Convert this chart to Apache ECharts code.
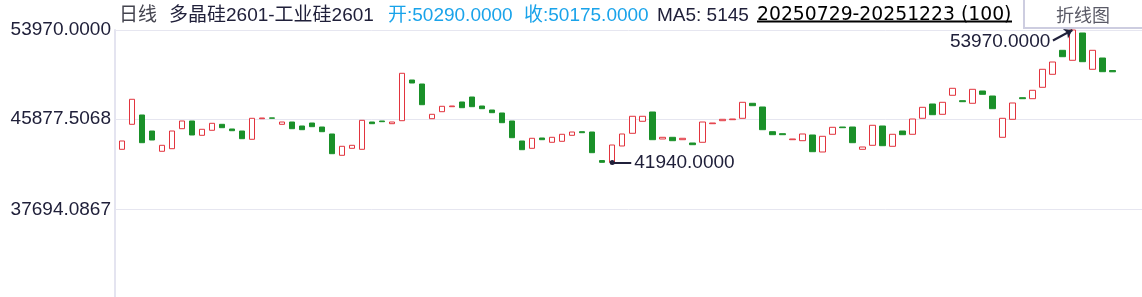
<!DOCTYPE html>
<html><head><meta charset="utf-8">
<script src="https://cdn.jsdelivr.net/npm/echarts@6/dist/echarts.min.js"></script>
<style>html,body{margin:0;padding:0;background:#fff;}#c{width:1142px;height:297px;}</style>
</head><body><div id="c"></div>
<script>
// ---- data ----
const opens = [
  43141,45410,46255,44802,42960,43196,45011,45710,44412,44866,
  45410,44984,44802,44049,45919,45990,45410,45619,45256,45528,
  45165,44530,42596,43232,43141,45619,45710,45465,45737,49431,
  49068,45919,46554,47008,47435,47888,47071,46708,46436,45710,
  43895,43232,44167,43777,43867,44412,44739,44711,42120,41940,
  43441,44593,45683,46527,44076,44230,44013,43713,43777,45465,
  45737,45828,45955,47317,46981,44739,44557,44013,43922,44439,
  42896,44503,45165,45165,43141,43504,45256,43413,44802,44503,
  45955,47253,46318,48043,47553,47317,48433,47979,44230,45864,
  47825,47734,48769,49949,52127,51220,53698,50403,51428,50290
];
const closes = [
  43895,47680,43740,43985,43504,44802,45710,44439,44957,45501,
  45102,44829,44103,45955,45982,45960,45619,45011,44920,45193,
  44739,42742,43413,43504,45773,45465,45646,45619,50040,49159,
  47189,46318,47044,47071,46917,47008,46826,46463,45556,44194,
  43105,44140,44013,44230,44503,44711,44648,42833,41960,43531,
  44530,46137,46137,44013,44230,43922,44140,43559,45619,45528,
  45864,45891,47407,47099,44920,44466,44466,44076,44530,42923,
  44321,45138,45102,43740,43350,45320,43468,44503,44466,45891,
  46953,46282,47407,48678,47462,48587,48133,46826,45955,47344,
  47734,48497,50403,51065,51546,53970,51093,52127,50185,50175
];
const yTickValues = [53970, 45877.5068, 37694.0867];
const headerProduct = '多晶硅2601-工业硅2601';
const headerPeriod = '日线';
const headerOpen = '开:50290.0000';
const headerClose = '收:50175.0000';
const headerMA = 'MA5: 5145';
const headerRange = '20250729-20251223 (100)';
const buttonText = '折线图';

// ---- build ----
const RED = '#e2343e', GREEN = '#1a9029', NAVY = '#20203a';
const candles = opens.map((o, i) => {
  const c = closes[i];
  return [i, o, c, Math.min(o, c), Math.max(o, c)];
});
let minIdx = 0, maxIdx = 0;
candles.forEach((d, i) => {
  if (d[3] < candles[minIdx][3]) minIdx = i;
  if (d[4] > candles[maxIdx][4]) maxIdx = i;
});
const minVal = candles[minIdx][3], maxVal = candles[maxIdx][4];
const UNIT_PER_PX = 90.77;

const FONT = '"Liberation Sans", Arial, "Noto Sans CJK SC", sans-serif';
function t(text, left, color, family, size) {
  return { text, left, top: 6, padding: 0,
    textStyle: { fontSize: size || 19, fontWeight: 'normal', color, fontFamily: family || FONT } };
}

const chart = echarts.init(document.getElementById('c'));
chart.setOption({
  animation: false,
  backgroundColor: '#fff',
  title: [
    t(headerPeriod, 119, '#44444f'),
    t(headerProduct, 169, NAVY),
    t(headerOpen, 388, '#19a3ea'),
    t(headerClose, 524, '#19a3ea'),
    t(headerMA, 657, NAVY),
    t(headerRange, 757, '#000', '"DejaVu Sans", sans-serif', 18.8)
  ],
  grid: { left: 115, right: 0, top: 30, bottom: 0, containLabel: false },
  xAxis: { type: 'value', min: -0.7, max: 101.95, show: false },
  yAxis: {
    type: 'value', min: 29734, max: 53970,
    axisLine: { show: true, onZero: false, lineStyle: { color: '#e4e4f0', width: 2 } },
    axisTick: { show: false },
    splitLine: { show: false },
    axisLabel: {
      customValues: yTickValues,
      formatter: v => Number(v).toFixed(4),
      fontSize: 19, color: NAVY, fontFamily: FONT, margin: 4
    }
  },
  graphic: [
    { type: 'rect', shape: { x: 1024, y: -2, width: 130, height: 30 },
      style: { fill: '#fff', stroke: '#cdcde0', lineWidth: 2 }, z: 10 },
    { type: 'text', x: 1083, y: 15, style: { text: buttonText, fill: '#5a5a66',
      font: '18px "Noto Sans CJK SC", sans-serif', textAlign: 'center', textVerticalAlign: 'middle' }, z: 11 },
    { type: 'line', shape: { x1: 757, y1: 21.5, x2: 1012, y2: 21.5 },
      style: { stroke: '#000', lineWidth: 2 }, z: 10 }
  ],
  series: [
    {
      type: 'line', data: [], silent: true,
      markLine: {
        silent: true, symbol: 'none', z: 1, animation: false,
        label: { show: false },
        lineStyle: { color: '#e6e6f0', width: 1, type: 'solid' },
        data: yTickValues.map(v => ({ yAxis: v }))
      }
    },
    {
      type: 'candlestick',
      data: candles,
      encode: { x: 0, y: [1, 2, 3, 4] },
      barWidth: 6,
      itemStyle: { color: '#fff', color0: GREEN, borderColor: RED, borderColor0: GREEN, borderWidth: 1 },
      markLine: {
        silent: true, animation: false, z: 6,
        lineStyle: { color: NAVY, width: 2, type: 'solid' },
        data: [
          [
            { coord: [minIdx, minVal], symbol: 'circle', symbolSize: 5,
              label: { show: true, position: 'end', distance: 3, formatter: minVal.toFixed(4),
                fontSize: 19, color: NAVY, fontFamily: FONT } },
            { coord: [minIdx + 1.9, minVal], symbol: 'none' }
          ],
          [
            { coord: [maxIdx, maxVal], symbol: 'arrow', symbolSize: 8,
              label: { show: true, position: 'end', distance: 3, formatter: maxVal.toFixed(4),
                fontSize: 19, color: NAVY, fontFamily: FONT } },
            { coord: [maxIdx - 1.95, maxVal - 10.5 * UNIT_PER_PX], symbol: 'none' }
          ]
        ]
      }
    }
  ]
});
</script></body></html>
